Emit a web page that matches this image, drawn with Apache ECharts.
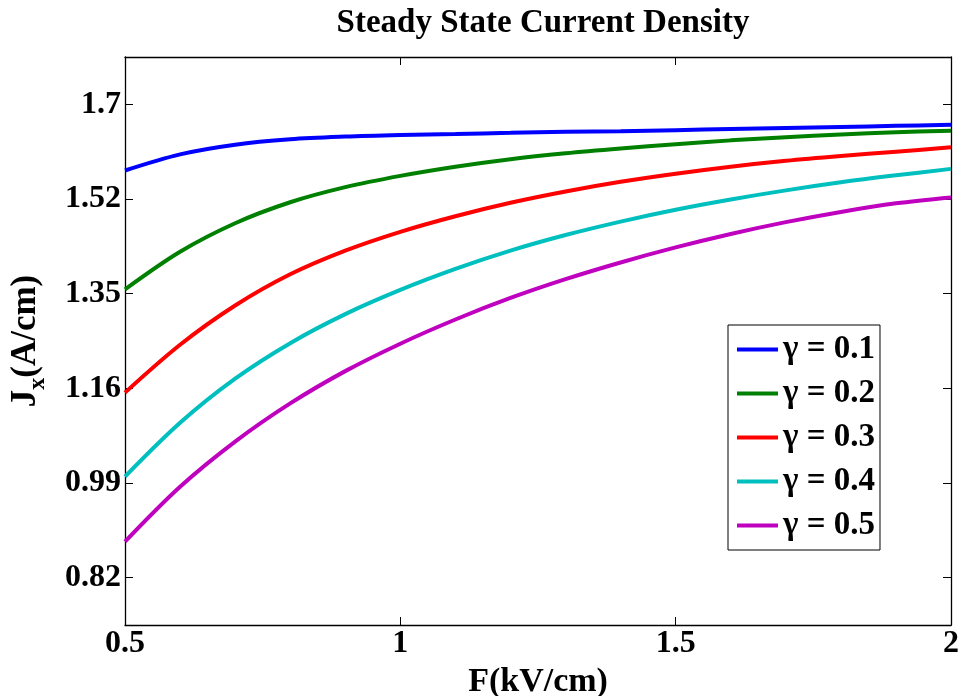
<!DOCTYPE html>
<html>
<head>
<meta charset="utf-8">
<script src="https://cdn.jsdelivr.net/npm/echarts@6/dist/echarts.min.js"></script>
<style>
  html, body { margin: 0; padding: 0; background: #fff; }
  #chart { width: 963px; height: 696px; }
</style>
</head>
<body>
<div id="chart"></div>
<script>
// Applied field F (kV/cm), evenly sampled
const fieldF = [0.5, 0.6, 0.7, 0.8, 0.9, 1.0, 1.1, 1.2, 1.3, 1.4, 1.5, 1.6, 1.7, 1.8, 1.9, 2.0];

// Steady-state current density J_x (A/cm) for each damping value
const jGamma01 = [1.577, 1.607, 1.625, 1.635, 1.640, 1.643, 1.645, 1.647, 1.649, 1.650, 1.652, 1.654, 1.656, 1.658, 1.660, 1.662];
const jGamma02 = [1.356, 1.426, 1.479, 1.518, 1.546, 1.567, 1.584, 1.598, 1.609, 1.618, 1.626, 1.633, 1.639, 1.644, 1.648, 1.651];
const jGamma03 = [1.164, 1.253, 1.326, 1.384, 1.428, 1.463, 1.492, 1.517, 1.538, 1.556, 1.571, 1.584, 1.595, 1.604, 1.612, 1.620];
const jGamma04 = [1.008, 1.108, 1.190, 1.256, 1.310, 1.355, 1.394, 1.428, 1.457, 1.482, 1.504, 1.523, 1.540, 1.555, 1.568, 1.580];
const jGamma05 = [0.887, 0.989, 1.073, 1.144, 1.204, 1.255, 1.300, 1.340, 1.375, 1.406, 1.434, 1.459, 1.481, 1.500, 1.516, 1.527];

const seriesNames = ['γ = 0.1', 'γ = 0.2', 'γ = 0.3', 'γ = 0.4', 'γ = 0.5'];
const seriesColors = ['#0000ff', '#008000', '#ff0000', '#00bfbf', '#bf00bf'];

// Y ticks are evenly spaced; labels are the printed (rounded) values
const yTickValues = [0.82, 0.996, 1.172, 1.348, 1.524, 1.70];
const yTickLabels = ['0.82', '0.99', '1.16', '1.35', '1.52', '1.7'];
const yMin = 0.732, yMax = 1.788;

const serifBold = { fontFamily: 'Liberation Serif', fontWeight: 'bold', color: '#000' };
const axisLine = { show: true, lineStyle: { color: '#000', width: 1.3 } };
const tickStyle = { show: true, inside: true, length: 8, lineStyle: { color: '#000', width: 1 } };

const allSeries = [jGamma01, jGamma02, jGamma03, jGamma04, jGamma05].map((vals, i) => ({
  name: seriesNames[i],
  type: 'line',
  data: fieldF.map((f, k) => [f, vals[k]]),
  smooth: 0.33,
  showSymbol: false,
  symbol: 'none',
  lineStyle: { color: seriesColors[i], width: 4 },
  itemStyle: { color: seriesColors[i] },
  xAxisIndex: 0,
  yAxisIndex: 0,
  z: 2 + i
}));

const chart = echarts.init(document.getElementById('chart'), null, { renderer: 'canvas' });
chart.setOption({
  backgroundColor: '#fff',
  animation: false,
  title: {
    text: 'Steady State Current Density',
    left: 538,
    top: 2,
    textAlign: 'center',
    textStyle: Object.assign({ fontSize: 33 }, serifBold)
  },
  grid: { left: 125, right: 12, top: 57, bottom: 71, containLabel: false, outerBoundsMode: 'none' },
  legend: {
    data: seriesNames,
    orient: 'vertical',
    left: 728,
    top: 325,
    padding: [8, 5, 8, 9],
    itemGap: 11,
    itemWidth: 41,
    itemHeight: 4,
    icon: 'rect',
    borderColor: '#000',
    borderWidth: 1,
    backgroundColor: '#fff',
    textStyle: Object.assign({ fontSize: 33, lineHeight: 33 }, serifBold)
  },
  xAxis: [{
    type: 'value',
    min: 0.5, max: 2, interval: 0.5,
    name: 'F(kV/cm)',
    nameLocation: 'middle',
    nameGap: 35,
    nameTextStyle: Object.assign({ fontSize: 34 }, serifBold),
    axisLine: axisLine,
    axisTick: tickStyle,
    axisLabel: Object.assign({ fontSize: 32, margin: 3, showMinLabel: true, showMaxLabel: true }, serifBold),
    splitLine: { show: false }
  }, {
    type: 'value', position: 'top',
    min: 0.5, max: 2, interval: 0.5,
    axisLine: axisLine,
    axisTick: tickStyle,
    axisLabel: { show: false },
    splitLine: { show: false }
  }],
  yAxis: [{
    type: 'value',
    min: yMin, max: yMax,
    name: '{m|J}{s|x}{m|(A/cm)}',
    nameLocation: 'middle',
    nameGap: 75,
    nameTextStyle: {
      rich: {
        m: Object.assign({ fontSize: 35 }, serifBold),
        s: Object.assign({ fontSize: 24, padding: [24, 0, 0, 0] }, serifBold)
      }
    },
    axisLine: axisLine,
    axisTick: Object.assign({ customValues: yTickValues }, tickStyle),
    axisLabel: Object.assign({
      fontSize: 32, margin: 4,
      customValues: yTickValues,
      formatter: (v) => {
        const idx = yTickValues.findIndex(t => Math.abs(t - v) < 1e-6);
        return idx >= 0 ? yTickLabels[idx] : '';
      }
    }, serifBold),
    splitLine: { show: false }
  }, {
    type: 'value', position: 'right',
    min: yMin, max: yMax,
    axisLine: axisLine,
    axisTick: Object.assign({ customValues: yTickValues }, tickStyle),
    axisLabel: { show: false },
    splitLine: { show: false }
  }],
  series: allSeries
});
</script>
</body>
</html>
